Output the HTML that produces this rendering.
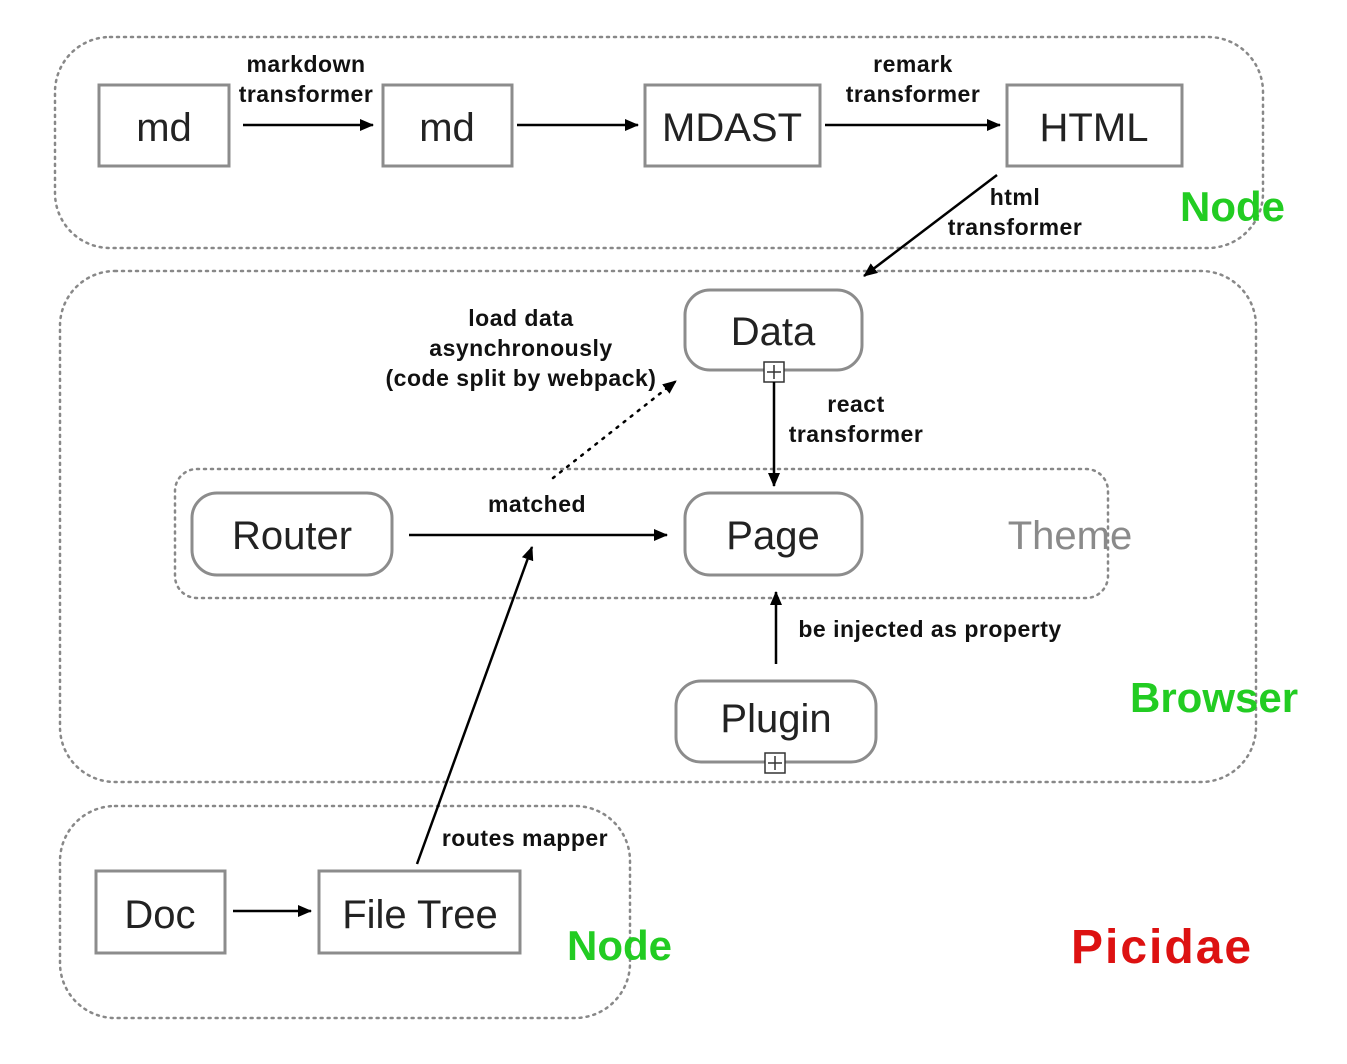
<!DOCTYPE html>
<html><head><meta charset="utf-8"><style>
html,body{margin:0;padding:0;background:#fff;}
svg{display:block;}
.box{fill:#fff;stroke:#8c8c8c;stroke-width:3;}
.bt{font-family:"Liberation Sans",sans-serif;font-size:40px;fill:#222;text-anchor:middle;}
.lb{font-family:"Liberation Sans",sans-serif;font-size:23px;font-weight:bold;fill:#111;text-anchor:middle;letter-spacing:0.5px;}
.cont{fill:none;stroke:#888;stroke-width:2.5;stroke-dasharray:2 5;stroke-linecap:round;}
.ln{stroke:#000;stroke-width:2.5;fill:none;}
.g{font-family:"Liberation Sans",sans-serif;font-weight:bold;font-size:42px;fill:#22cc22;}
</style></head><body>
<svg width="1347" height="1064" viewBox="0 0 1347 1064" xmlns="http://www.w3.org/2000/svg">
<defs>
<marker id="a" markerWidth="14" markerHeight="12" refX="13" refY="6" orient="auto" markerUnits="userSpaceOnUse"><path d="M0,0 L14,6 L0,12 z" fill="#000"/></marker>
</defs>
<rect class="cont" x="55" y="37" width="1208" height="211" rx="55"/>
<rect class="cont" x="60" y="271" width="1196" height="511" rx="55"/>
<rect class="cont" x="60" y="806" width="570" height="212" rx="55"/>
<rect class="cont" x="175" y="469" width="933" height="129" rx="22"/>

<rect class="box" x="99" y="85" width="130" height="81"/><text class="bt" x="164" y="141">md</text>
<rect class="box" x="383" y="85" width="129" height="81"/><text class="bt" x="447" y="141">md</text>
<rect class="box" x="645" y="85" width="175" height="81"/><text class="bt" x="732" y="141">MDAST</text>
<rect class="box" x="1007" y="85" width="175" height="81"/><text class="bt" x="1094" y="141">HTML</text>
<line class="ln" x1="243" y1="125" x2="373" y2="125" marker-end="url(#a)"/>
<line class="ln" x1="517" y1="125" x2="638" y2="125" marker-end="url(#a)"/>
<line class="ln" x1="825" y1="125" x2="1000" y2="125" marker-end="url(#a)"/>
<text class="lb" x="306" y="72">markdown</text><text class="lb" x="306" y="102">transformer</text>
<text class="lb" x="913" y="72">remark</text><text class="lb" x="913" y="102">transformer</text>
<line class="ln" x1="997" y1="175" x2="864" y2="276" marker-end="url(#a)"/>
<text class="lb" x="1015" y="205">html</text><text class="lb" x="1015" y="235">transformer</text>
<text class="g" x="1180" y="221">Node</text>

<rect class="box" x="685" y="290" width="177" height="80" rx="25"/><text class="bt" x="773" y="345">Data</text>
<rect x="764" y="362" width="20" height="20" fill="#fff" stroke="#333" stroke-width="1.5"/>
<path d="M774 365 v14 M767 372 h14" stroke="#333" stroke-width="1.5"/>
<line class="ln" x1="774" y1="382" x2="774" y2="486" marker-end="url(#a)"/>
<text class="lb" x="856" y="412">react</text><text class="lb" x="856" y="442">transformer</text>

<rect class="box" x="192" y="493" width="200" height="82" rx="25"/><text class="bt" x="292" y="549">Router</text>
<rect class="box" x="685" y="493" width="177" height="82" rx="25"/><text class="bt" x="773" y="549">Page</text>
<text class="bt" x="1070" y="549" style="fill:#8a8a8a">Theme</text>
<line class="ln" x1="409" y1="535" x2="667" y2="535" marker-end="url(#a)"/>
<text class="lb" x="537" y="512">matched</text>

<line x1="553" y1="478" x2="676" y2="381" stroke="#000" stroke-width="2.5" stroke-dasharray="2 7" stroke-linecap="round" marker-end="url(#a)"/>
<text class="lb" x="521" y="326">load data</text>
<text class="lb" x="521" y="356">asynchronously</text>
<text class="lb" x="521" y="386">(code split by webpack)</text>

<rect class="box" x="676" y="681" width="200" height="81" rx="25"/><text class="bt" x="776" y="732">Plugin</text>
<rect x="765" y="753" width="20" height="20" fill="#fff" stroke="#333" stroke-width="1.5"/>
<path d="M775 756 v14 M768 763 h14" stroke="#333" stroke-width="1.5"/>
<line class="ln" x1="776" y1="664" x2="776" y2="592" marker-end="url(#a)"/>
<text class="lb" x="930" y="637">be injected as property</text>
<text class="g" x="1130" y="712">Browser</text>

<rect class="box" x="96" y="871" width="129" height="82"/><text class="bt" x="160" y="928">Doc</text>
<rect class="box" x="319" y="871" width="201" height="82"/><text class="bt" x="420" y="928">File Tree</text>
<line class="ln" x1="233" y1="911" x2="311" y2="911" marker-end="url(#a)"/>
<line class="ln" x1="417" y1="864" x2="532" y2="547" marker-end="url(#a)"/>
<text class="lb" x="525" y="846">routes mapper</text>
<text class="g" x="567" y="960">Node</text>
<text class="g" x="1071" y="963" style="fill:#dd1111;font-size:48px;letter-spacing:2px">Picidae</text>
</svg>
</body></html>
